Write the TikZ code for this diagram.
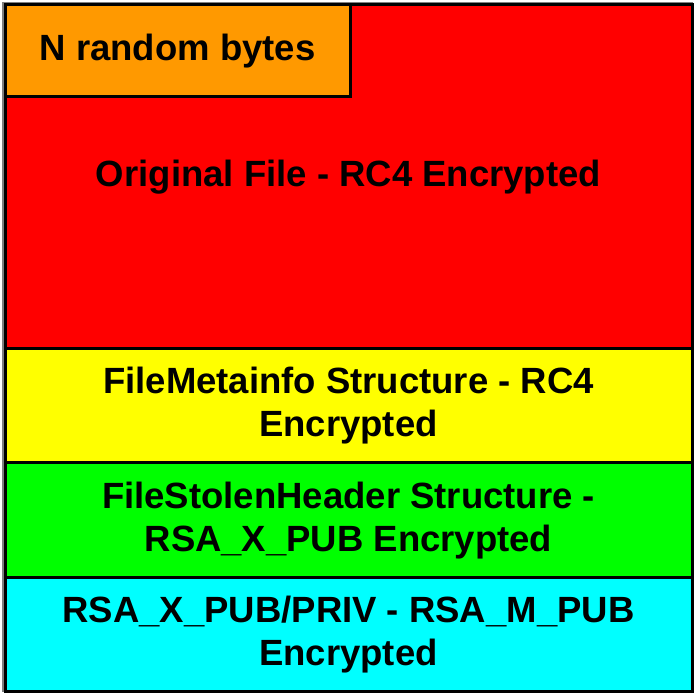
\documentclass[tikz,border=0pt]{standalone}
\usepackage{fontspec}
\setmainfont{Liberation Sans}
\usetikzlibrary{positioning}
\definecolor{fileRed}{RGB}{255,0,0}
\definecolor{randOrange}{RGB}{255,153,0}
\definecolor{metaYellow}{RGB}{255,255,0}
\definecolor{headGreen}{RGB}{0,255,0}
\definecolor{keyCyan}{RGB}{0,255,255}
\tikzset{
         layer/.style={draw=black, line width=3pt, outer sep=0pt, inner sep=0pt,
                       minimum width=687pt, align=center,
                       font=\bfseries\fontsize{36.5}{43}\selectfont},
}

\begin{document}
\begin{tikzpicture}[x=1pt,y=1pt]
    \useasboundingbox (0,0) rectangle (694,694);
    \fill[white] (0,0) rectangle (694,694);
    \draw[gray, line width=1.5pt] (3,3) rectangle (692,691);

    % Datei
    \node[layer, fill=fileRed, minimum height=344pt, anchor=north west] (file) at (5,689)
         {Original File - RC4 Encrypted};
    \node[layer, fill=randOrange, minimum width=345pt, minimum height=92pt,
          anchor=north west] (rand) at (file.north west) {N random bytes};

    % Anhang
    \node[layer, fill=metaYellow, minimum height=114pt, below=0pt of file] (meta)
         {FileMetainfo Structure - RC4\\Encrypted};
    \node[layer, fill=headGreen, minimum height=115pt, below=0pt of meta] (head)
         {FileStolenHeader Structure -\\RSA\_X\_PUB Encrypted};
    \node[layer, fill=keyCyan, minimum height=114pt, below=0pt of head] (key)
         {RSA\_X\_PUB/PRIV - RSA\_M\_PUB\\Encrypted};
\end{tikzpicture}
\end{document}
